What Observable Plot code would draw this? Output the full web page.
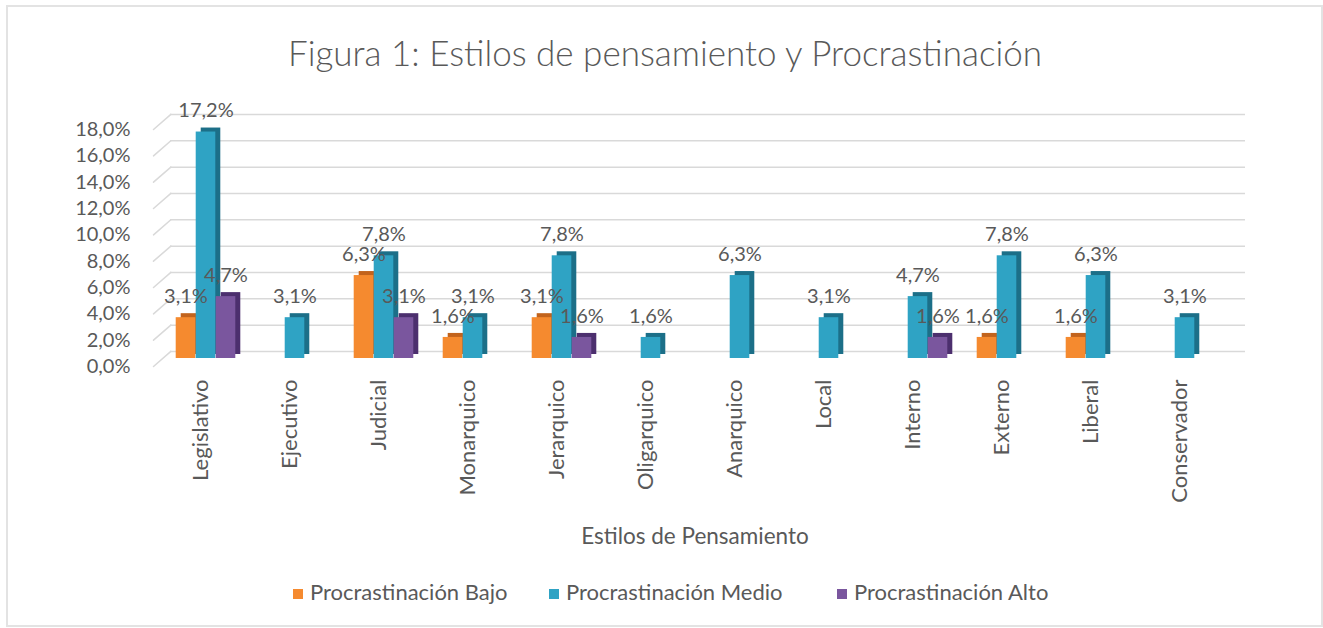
<!DOCTYPE html>
<html><head><meta charset="utf-8">
<script src="https://cdn.jsdelivr.net/npm/d3@7"></script>
<script src="https://cdn.jsdelivr.net/npm/@observablehq/plot@0.6"></script>
<style>
html,body{margin:0;padding:0;background:#fff;}
body{font-family:Lato,"Open Sans",sans-serif;color:#595959;width:1323px;height:628px;overflow:hidden;position:relative;}
#frame{position:absolute;left:6px;top:5px;width:1317px;height:622px;border:2px solid #e3e3e3;box-sizing:border-box;}
#title{position:absolute;left:0;top:30px;width:1330px;text-align:center;font-size:35px;font-weight:300;line-height:44px;color:#595959;}
#chart{position:absolute;left:0;top:95px;}
#legend{position:absolute;left:0;top:579px;width:1323px;height:26px;}
.item{position:absolute;top:0;font-size:22px;line-height:26px;color:#595959;white-space:nowrap;}
.sw{display:inline-block;width:10px;height:10px;margin-right:7px;vertical-align:1px;}
</style></head>
<body>
<div id="frame"></div>
<div id="title">Figura 1: Estilos de pensamiento y Procrastinación</div>
<div id="chart"></div>
<div id="legend"></div>
<script>
const categories = ["Legislativo","Ejecutivo","Judicial","Monarquico","Jerarquico","Oligarquico","Anarquico","Local","Interno","Externo","Liberal","Conservador"];
const seriesNames = ["Procrastinación Bajo","Procrastinación Medio","Procrastinación Alto"];
const bajo  = [3.1, null, 6.3, 1.6, 3.1, null, null, null, null, 1.6, 1.6, null];
const medio = [17.2, 3.1, 7.8, 3.1, 7.8, 1.6, 6.3, 3.1, 4.7, 7.8, 6.3, 3.1];
const alto  = [4.7, null, 3.1, null, 1.6, null, null, null, 1.6, null, null, null];
const yTicks = [0, 2, 4, 6, 8, 10, 12, 14, 16, 18];
const frontColors = ["#F58A2F", "#2FA3C4", "#7A569E"];
const sideColors  = ["#C2631C", "#1C6F88", "#4C2F6E"];

const seriesValues = [bajo, medio, alto];
const rows = [];
seriesValues.forEach((vals, k) => vals.forEach((v, i) => {
  if (v != null) rows.push({cat: categories[i], series: seriesNames[k], k, value: v});
}));
const fmt = d => d.toFixed(1).replace(".", ",") + "%";

const W = 1323, H = 470, ML = 158, MR = 92, MT = 26, MB = 207;
const step = (W - ML - MR) / categories.length;
const barW = 20;
const inset = (step - barW) / 2;
const depthX = 5, depthY = -4;

const marks = [
  Plot.ruleY(yTicks, {dx: 12, dy: -7, insetRight: -2, stroke: "#d9d9d9", strokeWidth: 1.5}),
  Plot.vector(yTicks, {y: d => d, frameAnchor: "left", dx: -5, dy: 8, length: 23, rotate: 49, anchor: "start", r: 0, stroke: "#d9d9d9", strokeWidth: 1.5})
];
for (let k = 0; k < 3; k++) {
  const data = rows.filter(d => d.k === k);
  marks.push(Plot.barY(data, {x: "cat", y: "value", insetLeft: inset, insetRight: inset, dx: (k - 1) * barW + depthX, dy: depthY, fill: sideColors[k]}));
}
for (let k = 0; k < 3; k++) {
  const data = rows.filter(d => d.k === k);
  marks.push(Plot.barY(data, {x: "cat", y: "value", insetLeft: inset, insetRight: inset, dx: (k - 1) * barW, fill: frontColors[k]}));
}
for (let k = 0; k < 3; k++) {
  const data = rows.filter(d => d.k === k);
  marks.push(Plot.text(data, {x: "cat", y: "value", dx: (k - 1) * barW, dy: -21, text: d => fmt(d.value), fill: "#595959", fontSize: 20}));
}
marks.push(Plot.axisY(yTicks, {tickSize: 0, tickPadding: 28, dy: 8, tickFormat: fmt, fontSize: 20, fill: "#595959", label: null}));
marks.push(Plot.axisX({tickSize: 0, tickPadding: 21, tickRotate: -90, dx: -5, fontSize: 22, fill: "#595959", label: null}));
marks.push(Plot.text(["Estilos de Pensamiento"], {frameAnchor: "bottom", text: d => d, dy: 185, dx: 0, fontSize: 22.5, fill: "#595959"}));

const chart = Plot.plot({
  width: W, height: H,
  marginLeft: ML, marginRight: MR, marginTop: MT, marginBottom: MB,
  style: {fontFamily: "Lato, 'Open Sans', sans-serif", background: "transparent", overflow: "visible"},
  x: {domain: categories, padding: 0, axis: null},
  y: {domain: [0, 18], axis: null},
  marks
});
document.getElementById("chart").appendChild(chart);

const legend = document.getElementById("legend");
const legendLeft = [293, 549, 837];
seriesNames.forEach((name, k) => {
  const it = document.createElement("div");
  it.className = "item";
  it.style.left = legendLeft[k] + "px";
  it.innerHTML = `<span class="sw" style="background:${frontColors[k]}"></span>${name}`;
  legend.appendChild(it);
});
</script>
</body></html>
